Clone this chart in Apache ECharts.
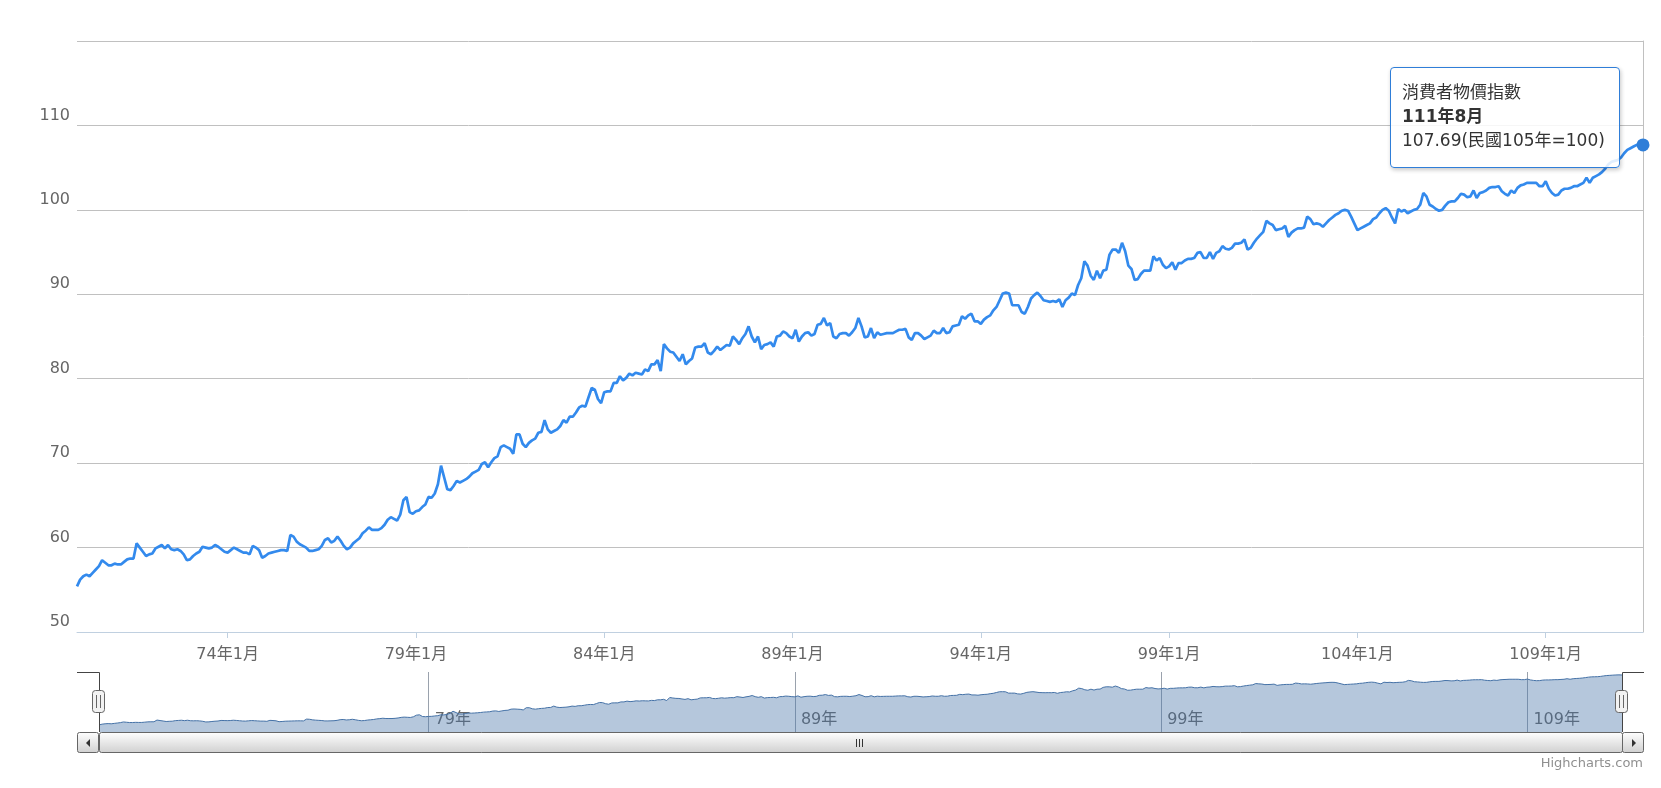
<!DOCTYPE html>
<html>
<head>
<meta charset="utf-8">
<script src="https://cdn.jsdelivr.net/npm/echarts/dist/echarts.min.js"></script>
<style>
html,body{margin:0;padding:0;background:#fff;}
#chart{width:1661px;height:788px;}
</style>
</head>
<body>
<div id="chart"></div>
<script>
// ---------------- data ----------------
const seriesName = '消費者物價指數';
const unitText = '(民國105年=100)';
const startYear = 70, endYear = 111, endMonth = 8;

const cpi70to79 = [
  55.4,56.2,56.6,56.8,56.6,57.0,57.4,57.8,58.5,58.2,57.9,57.9,
  58.1,58.0,58.0,58.3,58.6,58.7,58.7,60.5,60.0,59.5,59.0,59.2,
  59.3,59.9,60.1,60.3,59.9,60.3,59.8,59.7,59.8,59.6,59.2,58.5,
  58.6,59.0,59.3,59.5,60.1,60.0,59.9,60.0,60.3,60.1,59.8,59.5,
  59.4,59.7,60.0,59.8,59.6,59.4,59.4,59.2,60.2,60.0,59.7,58.8,
  59.0,59.3,59.4,59.5,59.6,59.7,59.7,59.6,61.5,61.3,60.7,60.4,
  60.2,60.0,59.6,59.6,59.7,59.8,60.2,60.9,61.1,60.6,60.8,61.3,
  60.8,60.2,59.8,60.0,60.5,60.8,61.1,61.7,62.0,62.4,62.1,62.1,
  62.1,62.3,62.7,63.3,63.6,63.4,63.2,63.9,65.6,66.0,64.2,64.0,
  64.3,64.4,64.8,65.1,66.0,65.9,66.4,67.5,69.7,68.3,66.9,66.8
];
const cpi80to89 = [
  67.3,67.9,67.7,67.9,68.1,68.4,68.8,69.0,69.2,69.9,70.1,69.5,
  70.1,70.6,70.8,71.9,72.1,71.9,71.7,71.1,73.4,73.4,72.3,71.9,
  72.4,72.7,72.9,73.6,73.7,75.1,74.0,73.6,73.8,74.0,74.4,75.1,
  74.8,75.5,75.5,76.0,76.6,76.8,76.7,77.8,78.9,78.7,77.6,77.1,
  78.4,78.5,78.5,79.5,79.5,80.3,79.8,80.1,80.6,80.4,80.7,80.6,
  80.5,81.1,80.9,81.7,81.7,82.2,80.9,84.1,83.6,83.2,83.1,82.6,
  82.1,82.9,81.7,82.1,82.4,83.7,83.8,83.8,84.2,83.1,82.9,83.3,
  83.8,83.4,83.7,84.0,83.9,85.0,84.6,84.1,84.8,85.3,86.2,85.0,
  84.3,85.0,83.5,84.0,84.1,84.3,83.8,85.0,85.1,85.6,85.4,85.0,
  84.8,85.8,84.4,85.0,85.4,85.5,85.1,85.3,86.4,86.5,87.2,86.3
];
const cpi90to99 = [
  86.6,85.0,84.8,85.3,85.4,85.4,85.1,85.5,86.0,87.2,86.2,84.9,
  85.0,86.0,84.8,85.5,85.2,85.3,85.4,85.4,85.4,85.6,85.8,85.8,
  85.9,84.9,84.6,85.4,85.4,85.1,84.7,84.9,85.1,85.7,85.4,85.4,
  86.0,85.4,85.5,86.2,86.3,86.4,87.4,87.1,87.5,87.7,86.8,86.8,
  86.5,87.0,87.3,87.5,88.1,88.5,89.3,90.1,90.2,90.1,88.7,88.7,
  88.7,87.9,87.7,88.5,89.5,89.9,90.2,89.8,89.3,89.2,89.1,89.2,
  89.1,89.4,88.5,89.3,89.6,90.1,89.9,91.1,91.9,93.9,93.4,92.2,
  91.7,92.8,91.9,92.8,92.9,94.7,95.3,95.3,94.9,96.1,95.1,93.4,
  93.0,91.7,91.8,92.4,92.8,92.8,92.8,94.5,94.0,94.3,93.5,93.1,
  93.3,93.8,92.9,93.7,93.7,94.0,94.2,94.2,94.3,94.9,95.0,94.3
];
const cpi100to111 = [
  94.3,95.0,94.2,94.9,95.1,95.7,95.4,95.3,95.5,96.0,96.0,96.1,
  96.5,95.3,95.5,96.1,96.6,97.0,97.4,98.7,98.4,98.2,97.6,97.7,
  97.8,98.1,96.8,97.3,97.6,97.8,97.8,97.9,99.2,98.9,98.3,98.4,
  98.3,98.0,98.4,98.8,99.1,99.4,99.6,99.9,100.0,99.9,99.2,98.4,
  97.6,97.8,98.0,98.2,98.4,98.9,99.1,99.6,100.0,100.2,99.9,99.1,
  98.4,100.1,99.8,100.0,99.6,99.8,100.0,100.1,100.6,102.0,101.6,100.6,
  100.4,100.1,99.9,100.0,100.5,100.9,101.0,101.0,101.4,101.9,101.8,101.5,
  101.6,102.3,101.4,102.0,102.1,102.3,102.6,102.7,102.7,102.8,102.2,101.9,
  101.7,102.3,102.0,102.6,102.9,103.0,103.2,103.2,103.2,103.2,102.8,102.8,
  103.4,102.5,102.0,101.7,101.8,102.3,102.5,102.5,102.6,102.8,102.8,103.0,
  103.2,103.8,103.2,103.8,104.0,104.2,104.5,104.9,105.4,105.7,105.8,105.9,
  106.2,106.7,107.1,107.3,107.5,107.7,107.8,107.69
];
const mainTickYears = [74, 79, 84, 89, 94, 99, 104, 109];
const navTickYears = [79, 89, 99, 109];
const creditText = 'Highcharts.com';

// ---------------- build ----------------
const values = [].concat(cpi70to79, cpi80to89, cpi90to99, cpi100to111);
const categories = [];
for (let y = startYear; y <= endYear; y++) {
  for (let m = 1; m <= 12; m++) {
    if (y === endYear && m > endMonth) break;
    categories.push(y + '年' + m + '月');
  }
}
const lastIdx = values.length - 1;
const mainTickNames = mainTickYears.map(y => y + '年1月');
const navTickNames = navTickYears.map(y => y + '年1月');
const isMainTick = (i, v) => mainTickNames.indexOf(categories[i]) >= 0;
const isNavTick = (i, v) => navTickNames.indexOf(categories[i]) >= 0;

const FONT = "'DejaVu Sans','Noto Sans CJK TC',sans-serif";
const LINE = '#2f7ed8';

// layout constants (pixels)
const L = 77, R = 1643, NL = 99, NR = 1622, NT = 672, NB = 732, SB = 753;

const grad = () => new echarts.graphic.LinearGradient(0, 0, 0, 1, [
  {offset: 0, color: '#ffffff'}, {offset: 1, color: '#d0d0d0'}
]);

function handle(cx) {
  return [
    {type: 'rect', z: 110, shape: {x: cx - 6.5, y: 690.5, width: 12, height: 22, r: 3},
     style: {fill: '#f2f2f2', stroke: '#666', lineWidth: 1}},
    {type: 'line', z: 111, shape: {x1: cx - 2.5, y1: 695, x2: cx - 2.5, y2: 708}, style: {stroke: '#666', lineWidth: 1}},
    {type: 'line', z: 111, shape: {x1: cx + 1.5, y1: 695, x2: cx + 1.5, y2: 708}, style: {stroke: '#666', lineWidth: 1}}
  ];
}
const gx = (L + 21 + NR) / 2;
const graphics = [
  // navigator outline
  {type: 'polyline', z: 100, shape: {points: [[L, NT + 0.5], [NL + 0.5, NT + 0.5], [NL + 0.5, NB]]},
   style: {stroke: '#444', lineWidth: 1, fill: null}},
  {type: 'polyline', z: 100, shape: {points: [[R + 1, NT + 0.5], [NR + 0.5, NT + 0.5], [NR + 0.5, NB]]},
   style: {stroke: '#444', lineWidth: 1, fill: null}},
  // scrollbar thumb
  {type: 'rect', z: 100, shape: {x: NL + 0.5, y: NB + 0.5, width: NR - NL, height: SB - NB - 1, r: 2},
   style: {fill: grad(), stroke: '#666', lineWidth: 1}},
  // scrollbar buttons
  {type: 'rect', z: 100, shape: {x: L + 0.5, y: NB + 0.5, width: 21, height: SB - NB - 1, r: 2},
   style: {fill: grad(), stroke: '#666', lineWidth: 1}},
  {type: 'rect', z: 100, shape: {x: NR + 0.5, y: NB + 0.5, width: 21, height: SB - NB - 1, r: 2},
   style: {fill: grad(), stroke: '#666', lineWidth: 1}},
  {type: 'polygon', z: 101, shape: {points: [[90, 739], [90, 747], [86, 743]]}, style: {fill: '#333'}},
  {type: 'polygon', z: 101, shape: {points: [[1632, 739], [1632, 747], [1636, 743]]}, style: {fill: '#333'}},
  // grip
  {type: 'line', z: 101, shape: {x1: gx - 3.5, y1: 739, x2: gx - 3.5, y2: 747}, style: {stroke: '#333', lineWidth: 1}},
  {type: 'line', z: 101, shape: {x1: gx - 0.5, y1: 739, x2: gx - 0.5, y2: 747}, style: {stroke: '#333', lineWidth: 1}},
  {type: 'line', z: 101, shape: {x1: gx + 2.5, y1: 739, x2: gx + 2.5, y2: 747}, style: {stroke: '#333', lineWidth: 1}},
  // credits
  {type: 'text', z: 100, style: {text: creditText, x: R, y: 764, align: 'right', verticalAlign: 'middle',
   textAlign: 'right', textVerticalAlign: 'middle', fill: '#909090', font: "13px 'DejaVu Sans'"}}
].concat(handle(NL), handle(NR));

const chart = echarts.init(document.getElementById('chart'), null, {renderer: 'canvas'});
chart.setOption({
  animation: false,
  backgroundColor: '#ffffff',
  textStyle: {fontFamily: FONT},
  grid: [
    {left: L, right: 1661 - R, top: 41, bottom: 788 - 632, containLabel: false, outerBoundsMode: 'none'},
    {left: NL, right: 1661 - NR, top: NT, height: NB - NT, containLabel: false, outerBoundsMode: 'none'}
  ],
  xAxis: [
    {
      type: 'category', gridIndex: 0, data: categories, boundaryGap: false,
      axisLine: {show: true, lineStyle: {color: '#C0D0E0', width: 1}},
      axisTick: {show: true, interval: isMainTick, length: 6, lineStyle: {color: '#C0D0E0'}},
      axisLabel: {show: true, interval: isMainTick, margin: 15, color: '#666', fontSize: 16, fontFamily: FONT},
      splitLine: {show: false}
    },
    {
      type: 'category', gridIndex: 1, data: categories, boundaryGap: false,
      axisLine: {show: false}, axisTick: {show: false},
      axisLabel: {show: true, inside: true, interval: isNavTick, margin: 4, align: 'left',
        verticalAlign: 'bottom', padding: [0, 0, 0, 6], color: '#666', fontSize: 16, fontFamily: FONT,
        formatter: v => v.split('年')[0] + '年'},
      splitLine: {show: true, interval: isNavTick, lineStyle: {color: '#9aa2ad', width: 1}}
    }
  ],
  yAxis: [
    {
      type: 'value', gridIndex: 0, min: 50, max: 120, interval: 10,
      axisLine: {show: false}, axisTick: {show: false},
      axisLabel: {show: true, showMaxLabel: false, margin: 7, color: '#666', fontSize: 16, fontFamily: FONT,
        verticalAlign: 'bottom', lineHeight: 16, padding: [0, 0, 2, 0]},
      splitLine: {show: true, lineStyle: {color: '#C0C0C0', width: 1}}
    },
    {
      type: 'value', gridIndex: 0, position: 'right', min: 50, max: 120, interval: 10,
      axisLine: {show: true, lineStyle: {color: '#C0C0C0', width: 1}},
      axisTick: {show: false}, axisLabel: {show: false}, splitLine: {show: false}
    },
    {
      type: 'value', gridIndex: 1, min: 48, max: 110.8, show: false,
      splitLine: {show: false}
    }
  ],
  tooltip: {
    show: true,
    trigger: 'axis',
    triggerOn: 'none',
    alwaysShowContent: true,
    axisPointer: {type: 'none'},
    position: [1390, 67],
    backgroundColor: 'rgba(255,255,255,0.85)',
    borderColor: LINE,
    borderWidth: 1,
    borderRadius: 4,
    padding: [12, 14, 15, 11],
    extraCssText: 'box-shadow:1px 2px 4px rgba(0,0,0,0.22);',
    textStyle: {color: '#333', fontSize: 17, fontFamily: FONT, lineHeight: 24},
    formatter: function (params) {
      const p = params.filter(q => q.seriesIndex === 0)[0] || params[0];
      const st = "font-family:" + FONT.replace(/"/g, '') + ";font-size:17px;line-height:24px;color:#333;white-space:nowrap;";
      return '<div style="' + st + '">' + seriesName + '</div>' +
             '<div style="' + st + 'font-weight:bold;">' + p.name + '</div>' +
             '<div style="' + st + '">' + p.value + unitText + '</div>';
    }
  },
  series: [
    {
      name: seriesName, type: 'line', xAxisIndex: 0, yAxisIndex: 0, data: values,
      showSymbol: false, symbol: 'none', smooth: false,
      lineStyle: {color: LINE, width: 2.7},
      itemStyle: {color: LINE},
      markPoint: {
        symbol: 'circle', symbolSize: 13, animation: false,
        itemStyle: {color: LINE},
        label: {show: false},
        data: [{coord: [categories[lastIdx], values[lastIdx]]}]
      },
      z: 3
    },
    {
      name: 'navigator', type: 'line', xAxisIndex: 1, yAxisIndex: 2, data: values,
      showSymbol: false, symbol: 'none',
      lineStyle: {color: '#4572A7', width: 1},
      areaStyle: {color: '#4572A7', opacity: 0.4, origin: 'start'},
      tooltip: {show: false},
      z: 2
    }
  ],
  graphic: graphics
});
chart.dispatchAction({type: 'showTip', seriesIndex: 0, dataIndex: lastIdx});
setTimeout(function () { chart.dispatchAction({type: 'showTip', seriesIndex: 0, dataIndex: lastIdx}); }, 50);
</script>
</body>
</html>
